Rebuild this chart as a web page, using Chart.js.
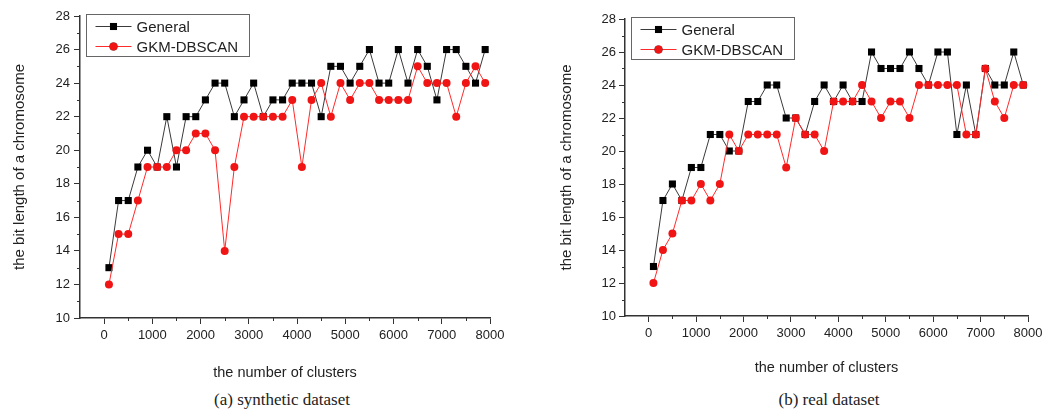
<!DOCTYPE html>
<html>
<head>
<meta charset="utf-8">
<script src="https://cdn.jsdelivr.net/npm/chart.js@4.4.1/dist/chart.umd.min.js"></script>
<style>
  body { margin: 0; width: 1042px; height: 411px; overflow: hidden; background: #fff; }
  canvas { position: absolute; top: 0; }
  #left { left: 0; }
  #right { left: 545px; }
  .cap { position: absolute; top: 390px; width: 300px; text-align: center; line-height: 20px;
         font-family: "Liberation Serif", "DejaVu Serif", serif; font-size: 17px; color: #222; }
</style>
</head>
<body>
<canvas id="left" width="520" height="390"></canvas>
<canvas id="right" width="520" height="390"></canvas>
<div class="cap" style="left:132px">(a) synthetic dataset</div>
<div class="cap" style="left:679px">(b) real dataset</div>
<script>
// number of clusters (x positions of the points)
const clusters = [100, 300, 500, 700, 900, 1100, 1300, 1500, 1700, 1900,
                  2100, 2300, 2500, 2700, 2900, 3100, 3300, 3500, 3700, 3900,
                  4100, 4300, 4500, 4700, 4900, 5100, 5300, 5500, 5700, 5900,
                  6100, 6300, 6500, 6700, 6900, 7100, 7300, 7500, 7700, 7900];

// (a) synthetic dataset
const synGeneral = [13, 17, 17, 19, 20, 19, 22, 19, 22, 22,
                    23, 24, 24, 22, 23, 24, 22, 23, 23, 24,
                    24, 24, 22, 25, 25, 24, 25, 26, 24, 24,
                    26, 24, 26, 25, 23, 26, 26, 25, 24, 26];
const synGkm = [12, 15, 15, 17, 19, 19, 19, 20, 20, 21,
                21, 20, 14, 19, 22, 22, 22, 22, 22, 23,
                19, 23, 24, 22, 24, 23, 24, 24, 23, 23,
                23, 23, 25, 24, 24, 24, 22, 24, 25, 24];

// (b) real dataset
const realGeneral = [13, 17, 18, 17, 19, 19, 21, 21, 20, 20,
                     23, 23, 24, 24, 22, 22, 21, 23, 24, 23,
                     24, 23, 23, 26, 25, 25, 25, 26, 25, 24,
                     26, 26, 21, 24, 21, 25, 24, 24, 26, 24];
const realGkm = [12, 14, 15, 17, 17, 18, 17, 18, 21, 20,
                 21, 21, 21, 21, 19, 22, 21, 21, 20, 23,
                 23, 23, 24, 23, 22, 23, 23, 22, 24, 24,
                 24, 24, 24, 21, 21, 25, 23, 22, 24, 24];

const seriesNames = ['General', 'GKM-DBSCAN'];
const xTicks = [0, 1000, 2000, 3000, 4000, 5000, 6000, 7000, 8000];
const xMinor = [500, 1500, 2500, 3500, 4500, 5500, 6500, 7500];
const yTicks = [10, 12, 14, 16, 18, 20, 22, 24, 26, 28];
const yMinor = [11, 13, 15, 17, 19, 21, 23, 25, 27];

const axisColor = '#333';
const textColor = '#222';
const sans = '"Liberation Sans", Arial, sans-serif';

// minor ticks + legend with line and marker
const extras = {
  id: 'extras',
  afterDraw(chart) {
    const ctx = chart.ctx;
    const a = chart.chartArea;
    const sx = chart.scales.x, sy = chart.scales.y;
    ctx.save();
    ctx.strokeStyle = axisColor;
    ctx.lineWidth = 1;
    ctx.beginPath();
    xMinor.forEach(v => {
      const p = Math.round(sx.getPixelForValue(v)) + 0.5;
      ctx.moveTo(p, a.bottom); ctx.lineTo(p, a.bottom + 3);
    });
    yMinor.forEach(v => {
      const p = Math.round(sy.getPixelForValue(v)) + 0.5;
      ctx.moveTo(a.left - 3, p); ctx.lineTo(a.left, p);
    });
    ctx.stroke();

    // legend box
    const lx = a.left + 6.5, ly = a.top - 1.5;
    ctx.fillStyle = '#fff';
    ctx.fillRect(lx, ly, 163, 42);
    ctx.strokeStyle = '#666';
    ctx.strokeRect(lx, ly, 163, 42);
    chart.data.datasets.forEach((ds, i) => {
      const cy = ly + 12 + i * 20;
      ctx.strokeStyle = ds.borderColor;
      ctx.lineWidth = 1;
      ctx.beginPath();
      ctx.moveTo(lx + 9, cy); ctx.lineTo(lx + 45, cy);
      ctx.stroke();
      Chart.helpers.drawPoint(ctx, {
        pointStyle: ds.pointStyle, radius: ds.pointRadius, borderWidth: 0
      }, lx + 27, cy);
      ctx.fillStyle = ds.pointBackgroundColor;
      ctx.fill();
      ctx.fillStyle = '#222';
      ctx.font = '15px ' + sans;
      ctx.textBaseline = 'middle';
      ctx.fillText(seriesNames[i], lx + 50, cy + 1);
    });
    ctx.restore();
  }
};

function makeChart(id, general, gkm, o) {
  const pts = arr => arr.map((v, i) => ({ x: clusters[i], y: v }));
  return new Chart(document.getElementById(id), {
    type: 'line',
    data: {
      datasets: [{
        label: seriesNames[0],
        data: pts(general),
        borderColor: '#3a3a3a',
        borderWidth: 1,
        pointStyle: 'rect',
        pointRadius: 5,
        pointBackgroundColor: '#000',
        pointBorderWidth: 0,
        order: 1
      }, {
        label: seriesNames[1],
        data: pts(gkm),
        borderColor: '#ff2a2a',
        borderWidth: 1,
        pointStyle: 'circle',
        pointRadius: 4,
        pointBackgroundColor: '#f01414',
        pointBorderWidth: 0,
        order: 0
      }]
    },
    options: {
      responsive: false,
      animation: false,
      layout: { padding: { top: o.top, right: o.right, left: 0, bottom: 0 } },
      plugins: { legend: { display: false }, tooltip: { enabled: false } },
      scales: {
        x: {
          type: 'linear',
          min: -500,
          max: 8000,
          afterBuildTicks: s => { s.ticks = xTicks.map(v => ({ value: v })); },
          afterFit: s => { s.height = o.xHeight; },
          grid: { drawOnChartArea: false, tickLength: 6, tickColor: axisColor },
          border: { color: axisColor, width: 1.5 },
          ticks: { padding: 4, color: textColor, font: { family: sans, size: 13 }, maxRotation: 0,
                   callback: v => String(v) },
          title: { display: true, text: 'the number of clusters', color: '#222',
                   font: { family: sans, size: 14.5 }, padding: { top: 0, bottom: o.xTitlePad } }
        },
        y: {
          min: 10,
          max: 28,
          afterBuildTicks: s => { s.ticks = yTicks.map(v => ({ value: v })); },
          afterFit: s => { s.width = 80; },
          grid: { drawOnChartArea: false, tickLength: 6, tickColor: axisColor },
          border: { color: axisColor, width: 1.5 },
          ticks: { padding: o.yPad, color: textColor, font: { family: sans, size: 13 },
                   callback: v => String(v) },
          title: { display: true, text: 'the bit length of a chromosome', color: '#222',
                   font: { family: sans, size: 15 }, padding: { top: o.yTitlePad, bottom: 0 } }
        }
      }
    },
    plugins: [extras]
  });
}

makeChart('left', synGeneral, synGkm, { top: 16, right: 30, xHeight: 72, xTitlePad: 8, yPad: 4, yTitlePad: 11 });
makeChart('right', realGeneral, realGkm, { top: 19, right: 37, xHeight: 74, xTitlePad: 13, yPad: 3, yTitlePad: 13 });
</script>
</body>
</html>
